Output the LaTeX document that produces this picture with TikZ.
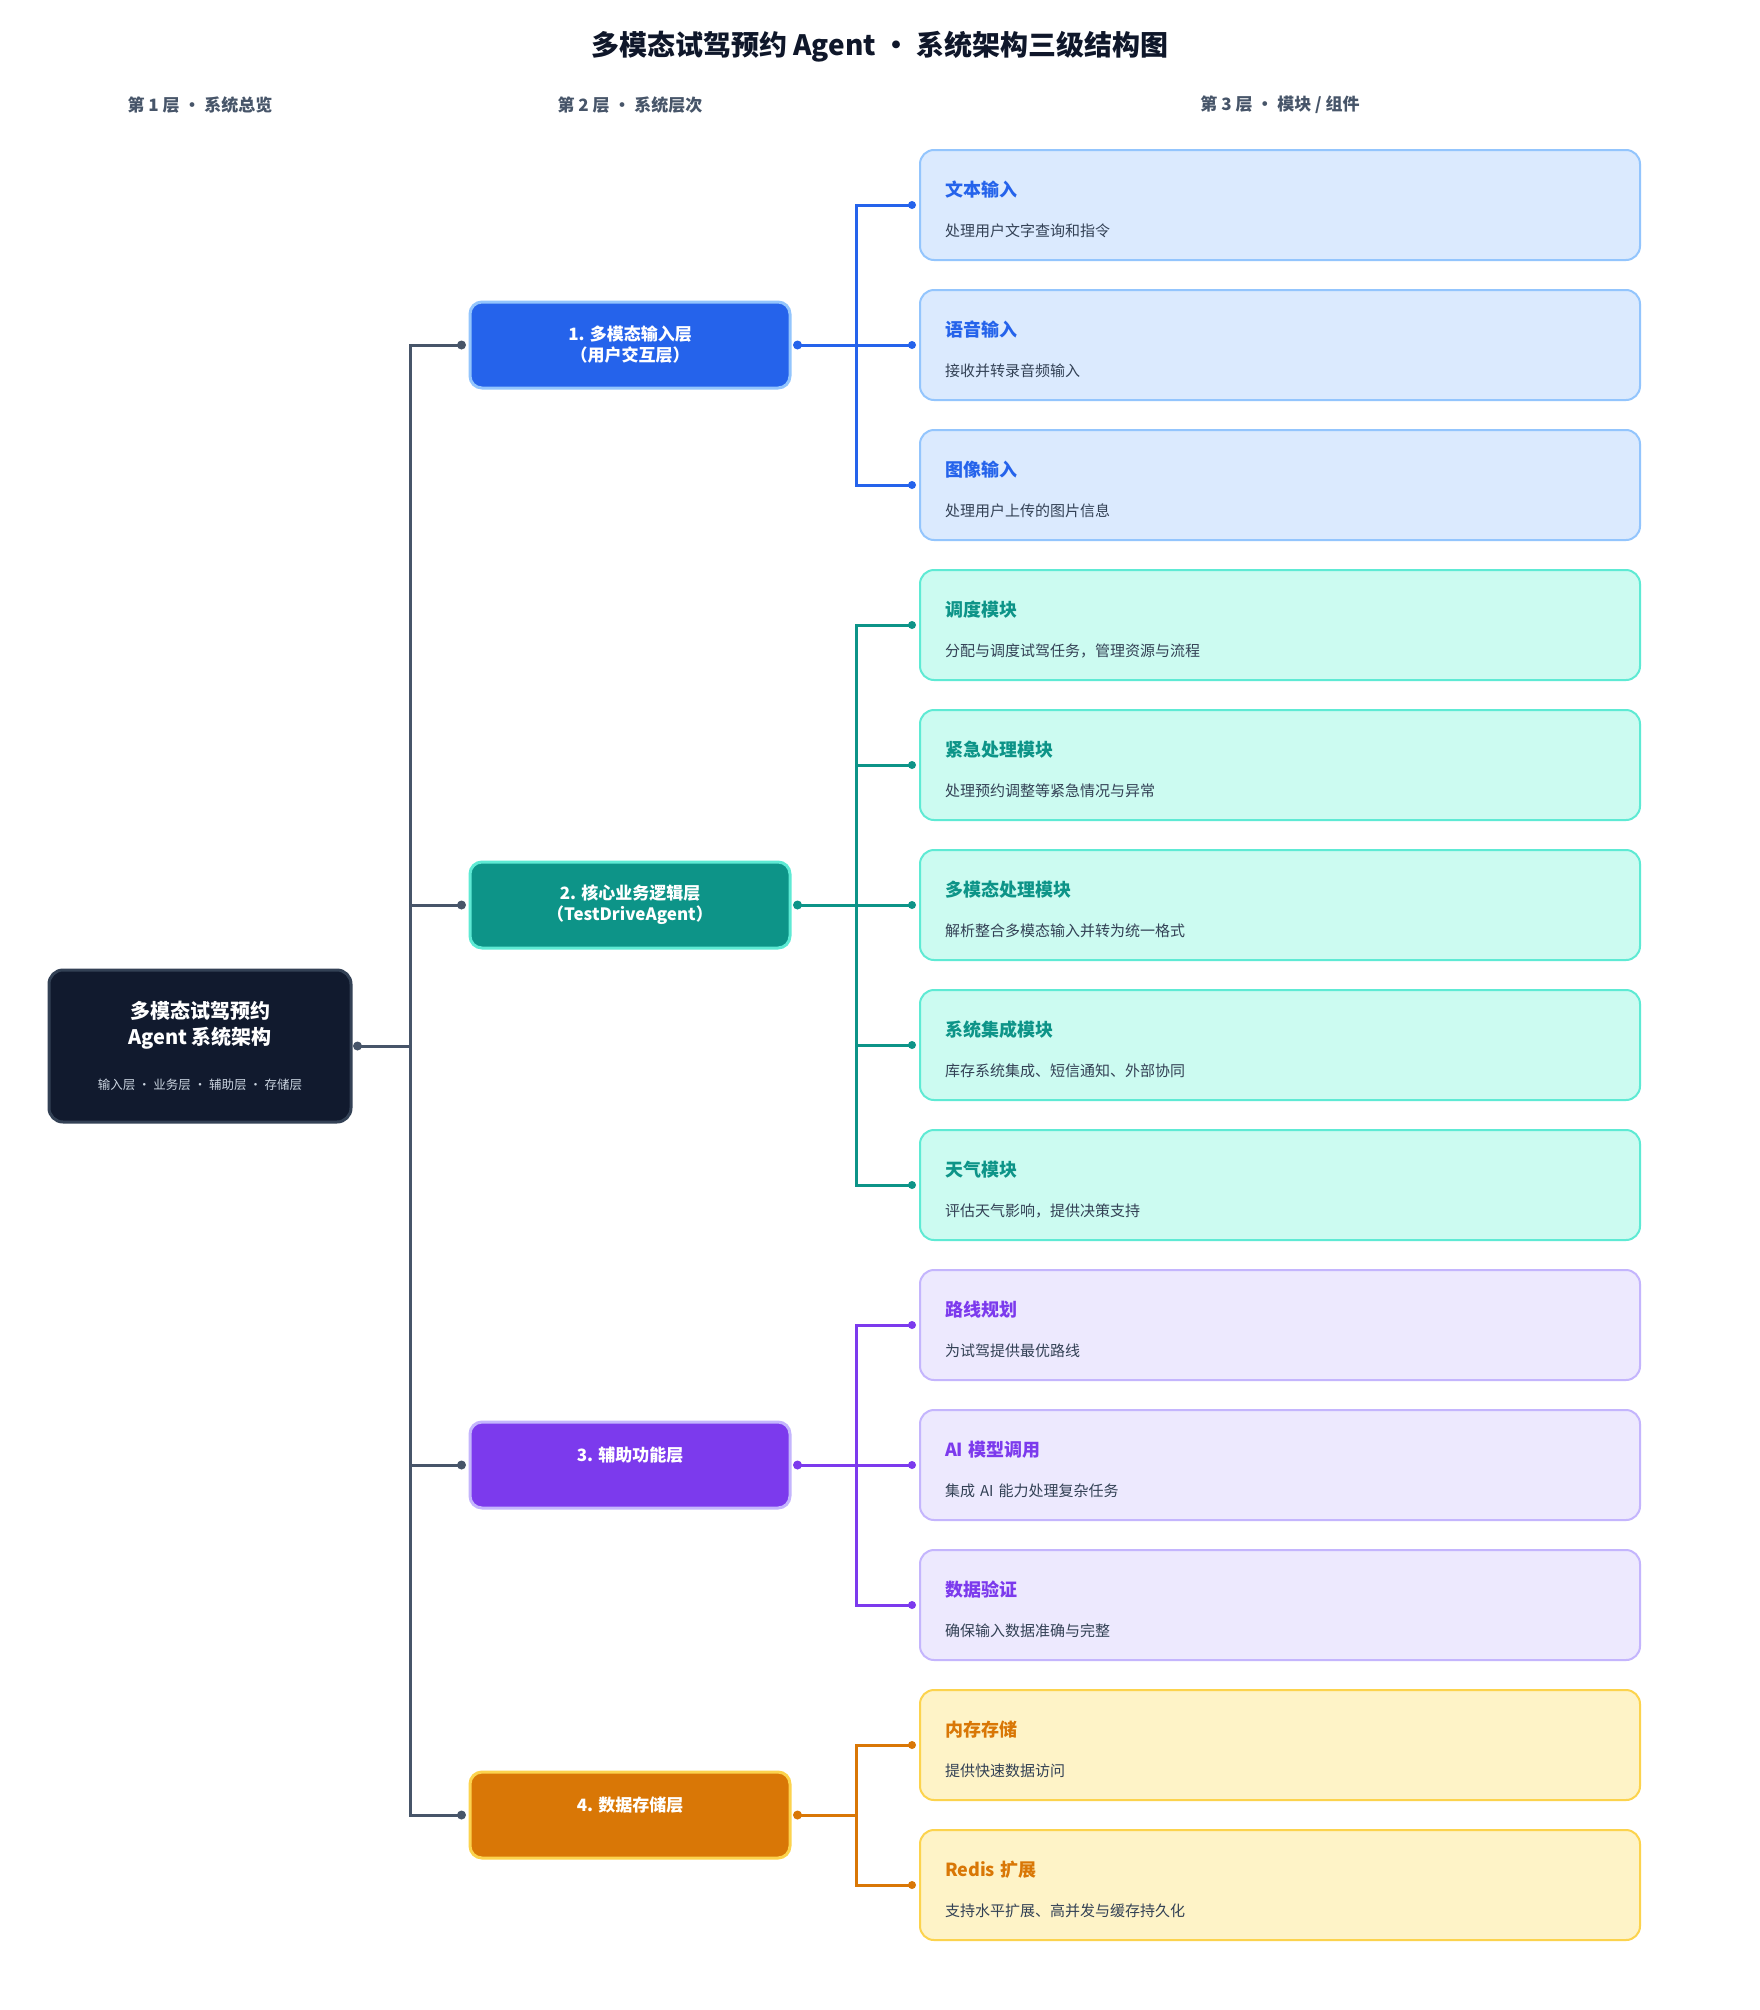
\documentclass[tikz,border=0pt]{standalone}
\usepackage{fontspec}
\setmainfont{Noto Sans CJK SC}
\usetikzlibrary{positioning}

\definecolor{ink}{HTML}{0F172A}
\definecolor{slate}{HTML}{475569}
\definecolor{desc}{HTML}{334155}
\definecolor{rootfill}{HTML}{111A2E}
\definecolor{rootsub}{HTML}{CBD5E1}
\definecolor{blueA}{HTML}{2563EB}
\definecolor{blueB}{HTML}{93C5FD}
\definecolor{blueC}{HTML}{DBEAFE}
\definecolor{tealA}{HTML}{0D9488}
\definecolor{tealB}{HTML}{5EEAD4}
\definecolor{tealC}{HTML}{CCFBF1}
\definecolor{violetA}{HTML}{7C3AED}
\definecolor{violetB}{HTML}{C4B5FD}
\definecolor{violetC}{HTML}{EDE9FE}
\definecolor{amberA}{HTML}{D97706}
\definecolor{amberB}{HTML}{FCD34D}
\definecolor{amberC}{HTML}{FEF3C7}

\newcommand{\modtitle}[2]{\textcolor{#1}{\fontsize{18}{22}\selectfont\bfseries #2}\rule{0pt}{25pt}}

\tikzset{
  header/.style={font=\fontsize{17}{20}\selectfont\bfseries, text=slate},
  rootbox/.style={rectangle, rounded corners=14pt, draw=desc, line width=3pt, fill=rootfill,
    minimum width=302pt, minimum height=152pt, text=white, align=center,
    font=\fontsize{20}{26}\selectfont\bfseries},
  layerbox/.style={rectangle, rounded corners=12pt, line width=3pt, minimum width=320pt,
    minimum height=86pt, text=white, align=center, font=\fontsize{17}{21}\selectfont\bfseries},
  modbox/.style={rectangle, rounded corners=14pt, line width=2pt, minimum width=720pt,
    minimum height=110pt, text width=670pt, align=left, text=desc,
    font=\fontsize{15}{20}\selectfont},
  trunk/.style={draw=slate, line width=3pt},
  link/.style={draw=#1, line width=3pt},
}

\begin{document}
\begin{tikzpicture}[x=1pt, y=-1pt]
\useasboundingbox[fill=white] (0,0) rectangle (1760,2010);

% title and column headers
\node[font=\fontsize{28}{32}\selectfont\bfseries, text=ink] (title) at (880,47) {多模态试驾预约 Agent · 系统架构三级结构图};
\node[header] (h1) at (200,105) {第 1 层 · 系统总览};
\node[header] (h2) at (630,105) {第 2 层 · 系统层次};
\node[header] (h3) at (1280,105) {第 3 层 · 模块 / 组件};

% level 1
\node[rootbox] (root) at (200,1046) {多模态试驾预约\\Agent 系统架构\\[19pt]{\fontsize{12.5}{16}\selectfont\mdseries\color{rootsub}输入层 · 业务层 · 辅助层 · 存储层}};

% level 2
\node[layerbox, fill=blueA, draw=blueB] (L1) at (630,345) {1. 多模态输入层\\（用户交互层）};
\node[layerbox, fill=tealA, draw=tealB] (L2) at (630,905) {2. 核心业务逻辑层\\（TestDriveAgent）};
\node[layerbox, fill=violetA, draw=violetB] (L3) at (630,1465) {3. 辅助功能层\\~};
\node[layerbox, fill=amberA, draw=amberB] (L4) at (630,1815) {4. 数据存储层\\~};

% level 3
\node[modbox, fill=blueC, draw=blueB] (m1) at (1280,205) {\modtitle{blueA}{文本输入}\\[20pt]处理用户文字查询和指令};
\node[modbox, fill=blueC, draw=blueB] (m2) at (1280,345) {\modtitle{blueA}{语音输入}\\[20pt]接收并转录音频输入};
\node[modbox, fill=blueC, draw=blueB] (m3) at (1280,485) {\modtitle{blueA}{图像输入}\\[20pt]处理用户上传的图片信息};
\node[modbox, fill=tealC, draw=tealB] (m4) at (1280,625) {\modtitle{tealA}{调度模块}\\[20pt]分配与调度试驾任务，管理资源与流程};
\node[modbox, fill=tealC, draw=tealB] (m5) at (1280,765) {\modtitle{tealA}{紧急处理模块}\\[20pt]处理预约调整等紧急情况与异常};
\node[modbox, fill=tealC, draw=tealB] (m6) at (1280,905) {\modtitle{tealA}{多模态处理模块}\\[20pt]解析整合多模态输入并转为统一格式};
\node[modbox, fill=tealC, draw=tealB] (m7) at (1280,1045) {\modtitle{tealA}{系统集成模块}\\[20pt]库存系统集成、短信通知、外部协同};
\node[modbox, fill=tealC, draw=tealB] (m8) at (1280,1185) {\modtitle{tealA}{天气模块}\\[20pt]评估天气影响，提供决策支持};
\node[modbox, fill=violetC, draw=violetB] (m9) at (1280,1325) {\modtitle{violetA}{路线规划}\\[20pt]为试驾提供最优路线};
\node[modbox, fill=violetC, draw=violetB] (m10) at (1280,1465) {\modtitle{violetA}{AI 模型调用}\\[20pt]集成 AI 能力处理复杂任务};
\node[modbox, fill=violetC, draw=violetB] (m11) at (1280,1605) {\modtitle{violetA}{数据验证}\\[20pt]确保输入数据准确与完整};
\node[modbox, fill=amberC, draw=amberB] (m12) at (1280,1745) {\modtitle{amberA}{内存存储}\\[20pt]提供快速数据访问};
\node[modbox, fill=amberC, draw=amberB] (m13) at (1280,1885) {\modtitle{amberA}{Redis 扩展}\\[20pt]支持水平扩展、高并发与缓存持久化};

% root to layers
\draw[trunk] ([xshift=5pt]root.east) -- ++(53,0) |- ([xshift=-7pt]L1.west);
\draw[trunk] ([xshift=5pt]root.east) -- ++(53,0) |- ([xshift=-7pt]L2.west);
\draw[trunk] ([xshift=5pt]root.east) -- ++(53,0) |- ([xshift=-7pt]L3.west);
\draw[trunk] ([xshift=5pt]root.east) -- ++(53,0) |- ([xshift=-7pt]L4.west);
\fill[slate] ([xshift=5pt]root.east) circle (4.5pt);
\fill[slate] ([xshift=-7pt]L1.west) circle (4.5pt);
\fill[slate] ([xshift=-7pt]L2.west) circle (4.5pt);
\fill[slate] ([xshift=-7pt]L3.west) circle (4.5pt);
\fill[slate] ([xshift=-7pt]L4.west) circle (4.5pt);

% layers to modules
\draw[link=blueA] ([xshift=6pt]L1.east) -- ++(59,0) |- ([xshift=-7pt]m1.west);
\draw[link=blueA] ([xshift=6pt]L1.east) -- ++(59,0) |- ([xshift=-7pt]m2.west);
\draw[link=blueA] ([xshift=6pt]L1.east) -- ++(59,0) |- ([xshift=-7pt]m3.west);
\draw[link=tealA] ([xshift=6pt]L2.east) -- ++(59,0) |- ([xshift=-7pt]m4.west);
\draw[link=tealA] ([xshift=6pt]L2.east) -- ++(59,0) |- ([xshift=-7pt]m5.west);
\draw[link=tealA] ([xshift=6pt]L2.east) -- ++(59,0) |- ([xshift=-7pt]m6.west);
\draw[link=tealA] ([xshift=6pt]L2.east) -- ++(59,0) |- ([xshift=-7pt]m7.west);
\draw[link=tealA] ([xshift=6pt]L2.east) -- ++(59,0) |- ([xshift=-7pt]m8.west);
\draw[link=violetA] ([xshift=6pt]L3.east) -- ++(59,0) |- ([xshift=-7pt]m9.west);
\draw[link=violetA] ([xshift=6pt]L3.east) -- ++(59,0) |- ([xshift=-7pt]m10.west);
\draw[link=violetA] ([xshift=6pt]L3.east) -- ++(59,0) |- ([xshift=-7pt]m11.west);
\draw[link=amberA] ([xshift=6pt]L4.east) -- ++(59,0) |- ([xshift=-7pt]m12.west);
\draw[link=amberA] ([xshift=6pt]L4.east) -- ++(59,0) |- ([xshift=-7pt]m13.west);
\fill[blueA] ([xshift=6pt]L1.east) circle (4.5pt);
\fill[tealA] ([xshift=6pt]L2.east) circle (4.5pt);
\fill[violetA] ([xshift=6pt]L3.east) circle (4.5pt);
\fill[amberA] ([xshift=6pt]L4.east) circle (4.5pt);
\fill[blueA] ([xshift=-7pt]m1.west) circle (4pt);
\fill[blueA] ([xshift=-7pt]m2.west) circle (4pt);
\fill[blueA] ([xshift=-7pt]m3.west) circle (4pt);
\fill[tealA] ([xshift=-7pt]m4.west) circle (4pt);
\fill[tealA] ([xshift=-7pt]m5.west) circle (4pt);
\fill[tealA] ([xshift=-7pt]m6.west) circle (4pt);
\fill[tealA] ([xshift=-7pt]m7.west) circle (4pt);
\fill[tealA] ([xshift=-7pt]m8.west) circle (4pt);
\fill[violetA] ([xshift=-7pt]m9.west) circle (4pt);
\fill[violetA] ([xshift=-7pt]m10.west) circle (4pt);
\fill[violetA] ([xshift=-7pt]m11.west) circle (4pt);
\fill[amberA] ([xshift=-7pt]m12.west) circle (4pt);
\fill[amberA] ([xshift=-7pt]m13.west) circle (4pt);
\end{tikzpicture}
\end{document}
